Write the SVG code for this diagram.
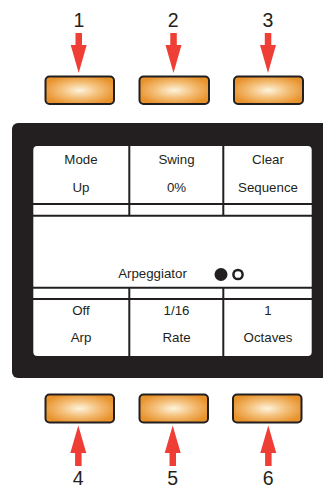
<svg xmlns="http://www.w3.org/2000/svg" width="323" height="489" viewBox="0 0 323 489">
<defs>
<radialGradient id="btn" cx="0.5" cy="0.5" r="0.55">
<stop offset="0" stop-color="#fdf4de"/>
<stop offset="0.5" stop-color="#f4c07a"/>
<stop offset="1" stop-color="#e8922c"/>
</radialGradient>
</defs>
<style>
.btn{fill:url(#btn);stroke:#231f20;stroke-width:2}
.num{font-family:"Liberation Sans",Arial,sans-serif;font-size:19.5px;fill:#231f20;text-anchor:middle}
.lbl{font-family:"Liberation Sans",Arial,sans-serif;font-size:13.3px;fill:#231f20;text-anchor:middle}
.div{stroke:#231f20;stroke-width:2;fill:none}
.arr{fill:#ef3e36}
</style>
<rect width="323" height="489" fill="#ffffff"/>
<g id="panel">
<rect x="12" y="123" width="330" height="255" rx="6" fill="#231f20"/>
<rect x="33.3" y="146" width="278.4" height="210" rx="4" fill="#ffffff"/>
</g>
<g id="screen-lines">
<line class="div" x1="33" y1="204" x2="312" y2="204"/>
<line class="div" x1="33" y1="215.7" x2="312" y2="215.7"/>
<line class="div" x1="33" y1="287.7" x2="312" y2="287.7"/>
<line class="div" x1="33" y1="299" x2="312" y2="299"/>
<line class="div" x1="129.3" y1="146" x2="129.3" y2="216"/>
<line class="div" x1="223.3" y1="146" x2="223.3" y2="216"/>
<line class="div" x1="129.3" y1="287" x2="129.3" y2="356"/>
<line class="div" x1="223.3" y1="287" x2="223.3" y2="356"/>
</g>
<g id="cell-mode"><text class="lbl" x="81" y="164">Mode</text><text class="lbl" x="81" y="191.7">Up</text></g>
<g id="cell-swing"><text class="lbl" x="176.5" y="164">Swing</text><text class="lbl" x="176.5" y="191.7">0%</text></g>
<g id="cell-clear"><text class="lbl" x="268" y="164">Clear</text><text class="lbl" x="268" y="191.7">Sequence</text></g>
<g id="title"><text class="lbl" x="152.5" y="278.3">Arpeggiator</text>
<circle cx="221" cy="274.5" r="6.5" fill="#231f20"/>
<circle cx="238" cy="274.5" r="4.6" fill="none" stroke="#231f20" stroke-width="2.5"/></g>
<g id="cell-arp"><text class="lbl" x="81" y="315">Off</text><text class="lbl" x="81" y="342.3">Arp</text></g>
<g id="cell-rate"><text class="lbl" x="176.5" y="315">1/16</text><text class="lbl" x="176.5" y="342.3">Rate</text></g>
<g id="cell-oct"><text class="lbl" x="268" y="315">1</text><text class="lbl" x="268" y="342.3">Octaves</text></g>
<g id="button1"><rect class="btn" x="45.5" y="76.5" width="68.5" height="27.5" rx="4"/></g>
<g id="button2"><rect class="btn" x="139.5" y="76.5" width="69.5" height="27.5" rx="4"/></g>
<g id="button3"><rect class="btn" x="234" y="76.5" width="69" height="27.5" rx="4"/></g>
<g id="button4"><rect class="btn" x="45.5" y="394.5" width="68.5" height="28" rx="4"/></g>
<g id="button5"><rect class="btn" x="139.5" y="394.5" width="68.5" height="28" rx="4"/></g>
<g id="button6"><rect class="btn" x="233" y="394.5" width="68.5" height="28" rx="4"/></g>
<g id="label1"><text class="num" x="79" y="27.3">1</text></g>
<g id="label2"><text class="num" x="173.3" y="27.3">2</text></g>
<g id="label3"><text class="num" x="268" y="27.3">3</text></g>
<g id="label4"><text class="num" x="78.3" y="485">4</text></g>
<g id="label5"><text class="num" x="172.7" y="485">5</text></g>
<g id="label6"><text class="num" x="268.3" y="485">6</text></g>
<g id="connectors">
<polygon class="arr" points="75.5,33 82,33 82,45 86.7,45 78.7,73 70.7,45 75.5,45"/>
<polygon class="arr" points="170.3,33 176.8,33 176.8,45 181.5,45 173.5,73 165.5,45 170.3,45"/>
<polygon class="arr" points="264.8,33 271.3,33 271.3,45 276,45 268,73 260,45 264.8,45"/>
<polygon class="arr" points="75.1,466 81.6,466 81.6,453 86.3,453 78.3,425.5 70.3,453 75.1,453"/>
<polygon class="arr" points="169.5,466 176,466 176,453 180.7,453 172.7,425.5 164.7,453 169.5,453"/>
<polygon class="arr" points="265.1,466 271.6,466 271.6,453 276.3,453 268.3,425.5 260.3,453 265.1,453"/>
</g>
</svg>
